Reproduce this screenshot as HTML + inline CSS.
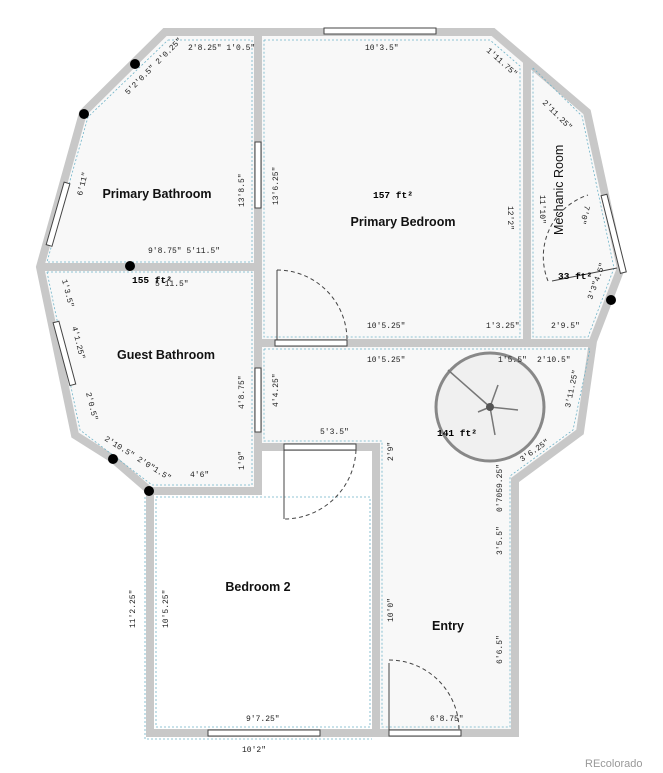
<!DOCTYPE html>
<html><head><meta charset="utf-8"><style>
html,body{margin:0;padding:0;background:#fff;width:663px;height:773px;overflow:hidden}
svg{display:block}
.d{font-family:"Liberation Mono",monospace;font-size:8px;fill:#222}
.r{font-family:"Liberation Sans",sans-serif;font-size:12.5px;font-weight:bold;fill:#111}
.a{font-family:"Liberation Mono",monospace;font-size:9.5px;font-weight:bold;fill:#000}
</style></head><body>
<svg width="663" height="773" viewBox="0 0 663 773" xmlns="http://www.w3.org/2000/svg">
<polygon points="165,32 493,32 587,112 621,268 593,341 580,432 515,480 515,733 150,733 150,491 75,435 40,267 83,113" fill="#f8f8f8"/>
<rect x="258" y="447" width="118" height="286" fill="#fff"/>
<rect x="150" y="491" width="226" height="242" fill="#fff"/>
<polygon points="165,32 493,32 587,112 621,268 593,341 580,432 515,480 515,733 150,733 150,491 113,459 75,435 40,267 83,113" fill="none" stroke="#c8c8c8" stroke-width="8" stroke-linejoin="miter"/>
<g stroke="#c8c8c8" stroke-width="8" fill="none">
<line x1="258" y1="32" x2="258" y2="491"/>
<line x1="40" y1="267" x2="258" y2="267"/>
<line x1="258" y1="343" x2="595" y2="343"/>
<line x1="527" y1="60" x2="527" y2="343"/>
<line x1="146" y1="491" x2="262" y2="491"/>
<line x1="254" y1="447" x2="380" y2="447"/>
<line x1="376" y1="447" x2="376" y2="737"/>
</g>
<g stroke="#6fb3c8" stroke-width="0.8" stroke-dasharray="2,2" fill="none">
<polyline points="168,40 252,40 252,262 47,262 88,117 168,40"/>
<polyline points="264,40 490,40 520,66 520,337 264,337 264,40"/>
<polyline points="533,68 582,116 614,268 588,337 533,337 533,68"/>
<polyline points="47,272 252,272 252,485 152,485 80,430 47,272"/>
<polyline points="264,349 590,349 573,430 510,476 510,727 382,727 382,441 264,441 264,349"/>
<polyline points="156,497 370,497 370,727 156,727 156,497"/>
<polyline points="145,497 145,739 372,739"/>
</g>
<g fill="#fff" stroke="#444" stroke-width="1">
<rect x="324" y="28" width="112" height="6"/>
<rect x="255" y="142" width="6" height="66"/>
<rect x="255" y="368" width="6" height="64"/>
<rect x="208" y="730" width="112" height="6"/>
<rect x="389" y="730" width="72" height="6"/>
<rect x="284" y="444" width="72" height="6"/>
<rect x="275" y="340" width="72" height="6"/>
<rect x="-3" y="0" width="6" height="65" transform="translate(67,183) rotate(16)"/>
<rect x="-3" y="0" width="6" height="65" transform="translate(56,322) rotate(-15)"/>
<rect x="-3" y="0" width="6" height="80" transform="translate(604,195) rotate(-14)"/>
</g>
<g stroke="#444" stroke-width="1" fill="none">
<line x1="277" y1="270" x2="277" y2="340"/>
<path d="M277,270 A70,70 0 0 1 347,340" stroke-dasharray="4,3"/>
<line x1="284" y1="450" x2="284" y2="519"/>
<path d="M356,450 A72,72 0 0 1 284,519" stroke-dasharray="4,3"/>
<line x1="389" y1="663" x2="389" y2="730"/>
<path d="M389,660 A70,70 0 0 1 459,730" stroke-dasharray="4,3"/>
<line x1="552" y1="281" x2="617" y2="268"/>
<path d="M548,281 A65,65 0 0 1 588,195" stroke-dasharray="4,3"/>
</g>
<circle cx="490" cy="407" r="54" fill="#f0f0f0" stroke="#888" stroke-width="3"/>
<g stroke="#777" stroke-width="1.5">
<line x1="448" y1="370" x2="490" y2="407"/>
<line x1="490" y1="407" x2="518" y2="410"/>
<line x1="490" y1="407" x2="495" y2="435"/>
<line x1="490" y1="407" x2="498" y2="385"/>
<line x1="490" y1="407" x2="478" y2="412"/>
</g>
<circle cx="490" cy="407" r="4" fill="#555"/>
<g fill="#000">
<circle cx="135" cy="64" r="5"/><circle cx="84" cy="114" r="5"/>
<circle cx="130" cy="266" r="5"/><circle cx="611" cy="300" r="5"/>
<circle cx="113" cy="459" r="5"/><circle cx="149" cy="491" r="5"/>
</g>
<text class="r" x="157" y="198" text-anchor="middle">Primary Bathroom</text>
<text class="r" x="403" y="226" text-anchor="middle">Primary Bedroom</text>
<text class="r" x="166" y="359" text-anchor="middle">Guest Bathroom</text>
<text class="r" x="258" y="591" text-anchor="middle">Bedroom 2</text>
<text class="r" x="448" y="630" text-anchor="middle">Entry</text>
<text x="0" y="0" transform="translate(563,235) rotate(-90)" style="font-family:'Liberation Sans',sans-serif;font-size:12.5px;fill:#111">Mechanic Room</text>
<text class="a" x="373" y="198">157 ft²</text>
<text class="a" x="132" y="283">155 ft²</text>
<text class="a" x="437" y="436">141 ft²</text>
<text class="a" x="558" y="279">33 ft²</text>
<g class="d">
<text x="188" y="50">2'8.25" 1'0.5"</text>
<text x="365" y="50">10'3.5"</text>
<text x="148" y="253">9'8.75" 5'11.5"</text>
<text x="155" y="286">5'11.5"</text>
<text x="367" y="328">10'5.25"</text>
<text x="486" y="328">1'3.25"</text>
<text x="551" y="328">2'9.5"</text>
<text x="367" y="362">10'5.25"</text>
<text x="498" y="362">1'5.5"</text>
<text x="537" y="362">2'10.5"</text>
<text x="320" y="434">5'3.5"</text>
<text x="190" y="477">4'6"</text>
<text x="246" y="721">9'7.25"</text>
<text x="430" y="721">6'8.75"</text>
<text x="242" y="752">10'2"</text>
<text transform="translate(244,207) rotate(-90)">13'8.5"</text>
<text transform="translate(278,205) rotate(-90)">13'6.25"</text>
<text transform="translate(508,206) rotate(90)">12'2"</text>
<text transform="translate(540,195) rotate(90)">11'10"</text>
<text transform="translate(244,409) rotate(-90)">4'8.75"</text>
<text transform="translate(278,407) rotate(-90)">4'4.25"</text>
<text transform="translate(244,470) rotate(-90)">1'9"</text>
<text transform="translate(393,461) rotate(-90)">2'9"</text>
<text transform="translate(393,622) rotate(-90)">10'0"</text>
<text transform="translate(168,628) rotate(-90)">10'5.25"</text>
<text transform="translate(135,628) rotate(-90)">11'2.25"</text>
<text transform="translate(502,512) rotate(-90)">0'7059.25"</text>
<text transform="translate(502,555) rotate(-90)">3'5.5"</text>
<text transform="translate(502,664) rotate(-90)">6'6.5"</text>
<text transform="translate(82,196) rotate(-76)">6'11"</text>
<text transform="translate(62,280) rotate(76)">1'3.5"</text>
<text transform="translate(72,327) rotate(76)">4'1.25"</text>
<text transform="translate(86,393) rotate(76)">2'0.5"</text>
<text transform="translate(104,440) rotate(32)">2'10.5" 2'0"1.5"</text>
<text transform="translate(128,95) rotate(-45)">5'2'0.5" 2'0.25"</text>
<text transform="translate(486,51) rotate(42)">1'11.75"</text>
<text transform="translate(542,103) rotate(45)">2'11.25"</text>
<text transform="translate(592,300) rotate(-70)">3'3"4.5"</text>
<text transform="translate(570,408) rotate(-78)">3'11.25"</text>
<text transform="translate(522,462) rotate(-35)">3'6.25"</text>
<text transform="translate(585,205) rotate(105)">7'0"</text>
</g>
<text x="585" y="767" style="font-family:'Liberation Sans',sans-serif;font-size:11px;fill:#999">REcolorado</text>
</svg>
</body></html>
